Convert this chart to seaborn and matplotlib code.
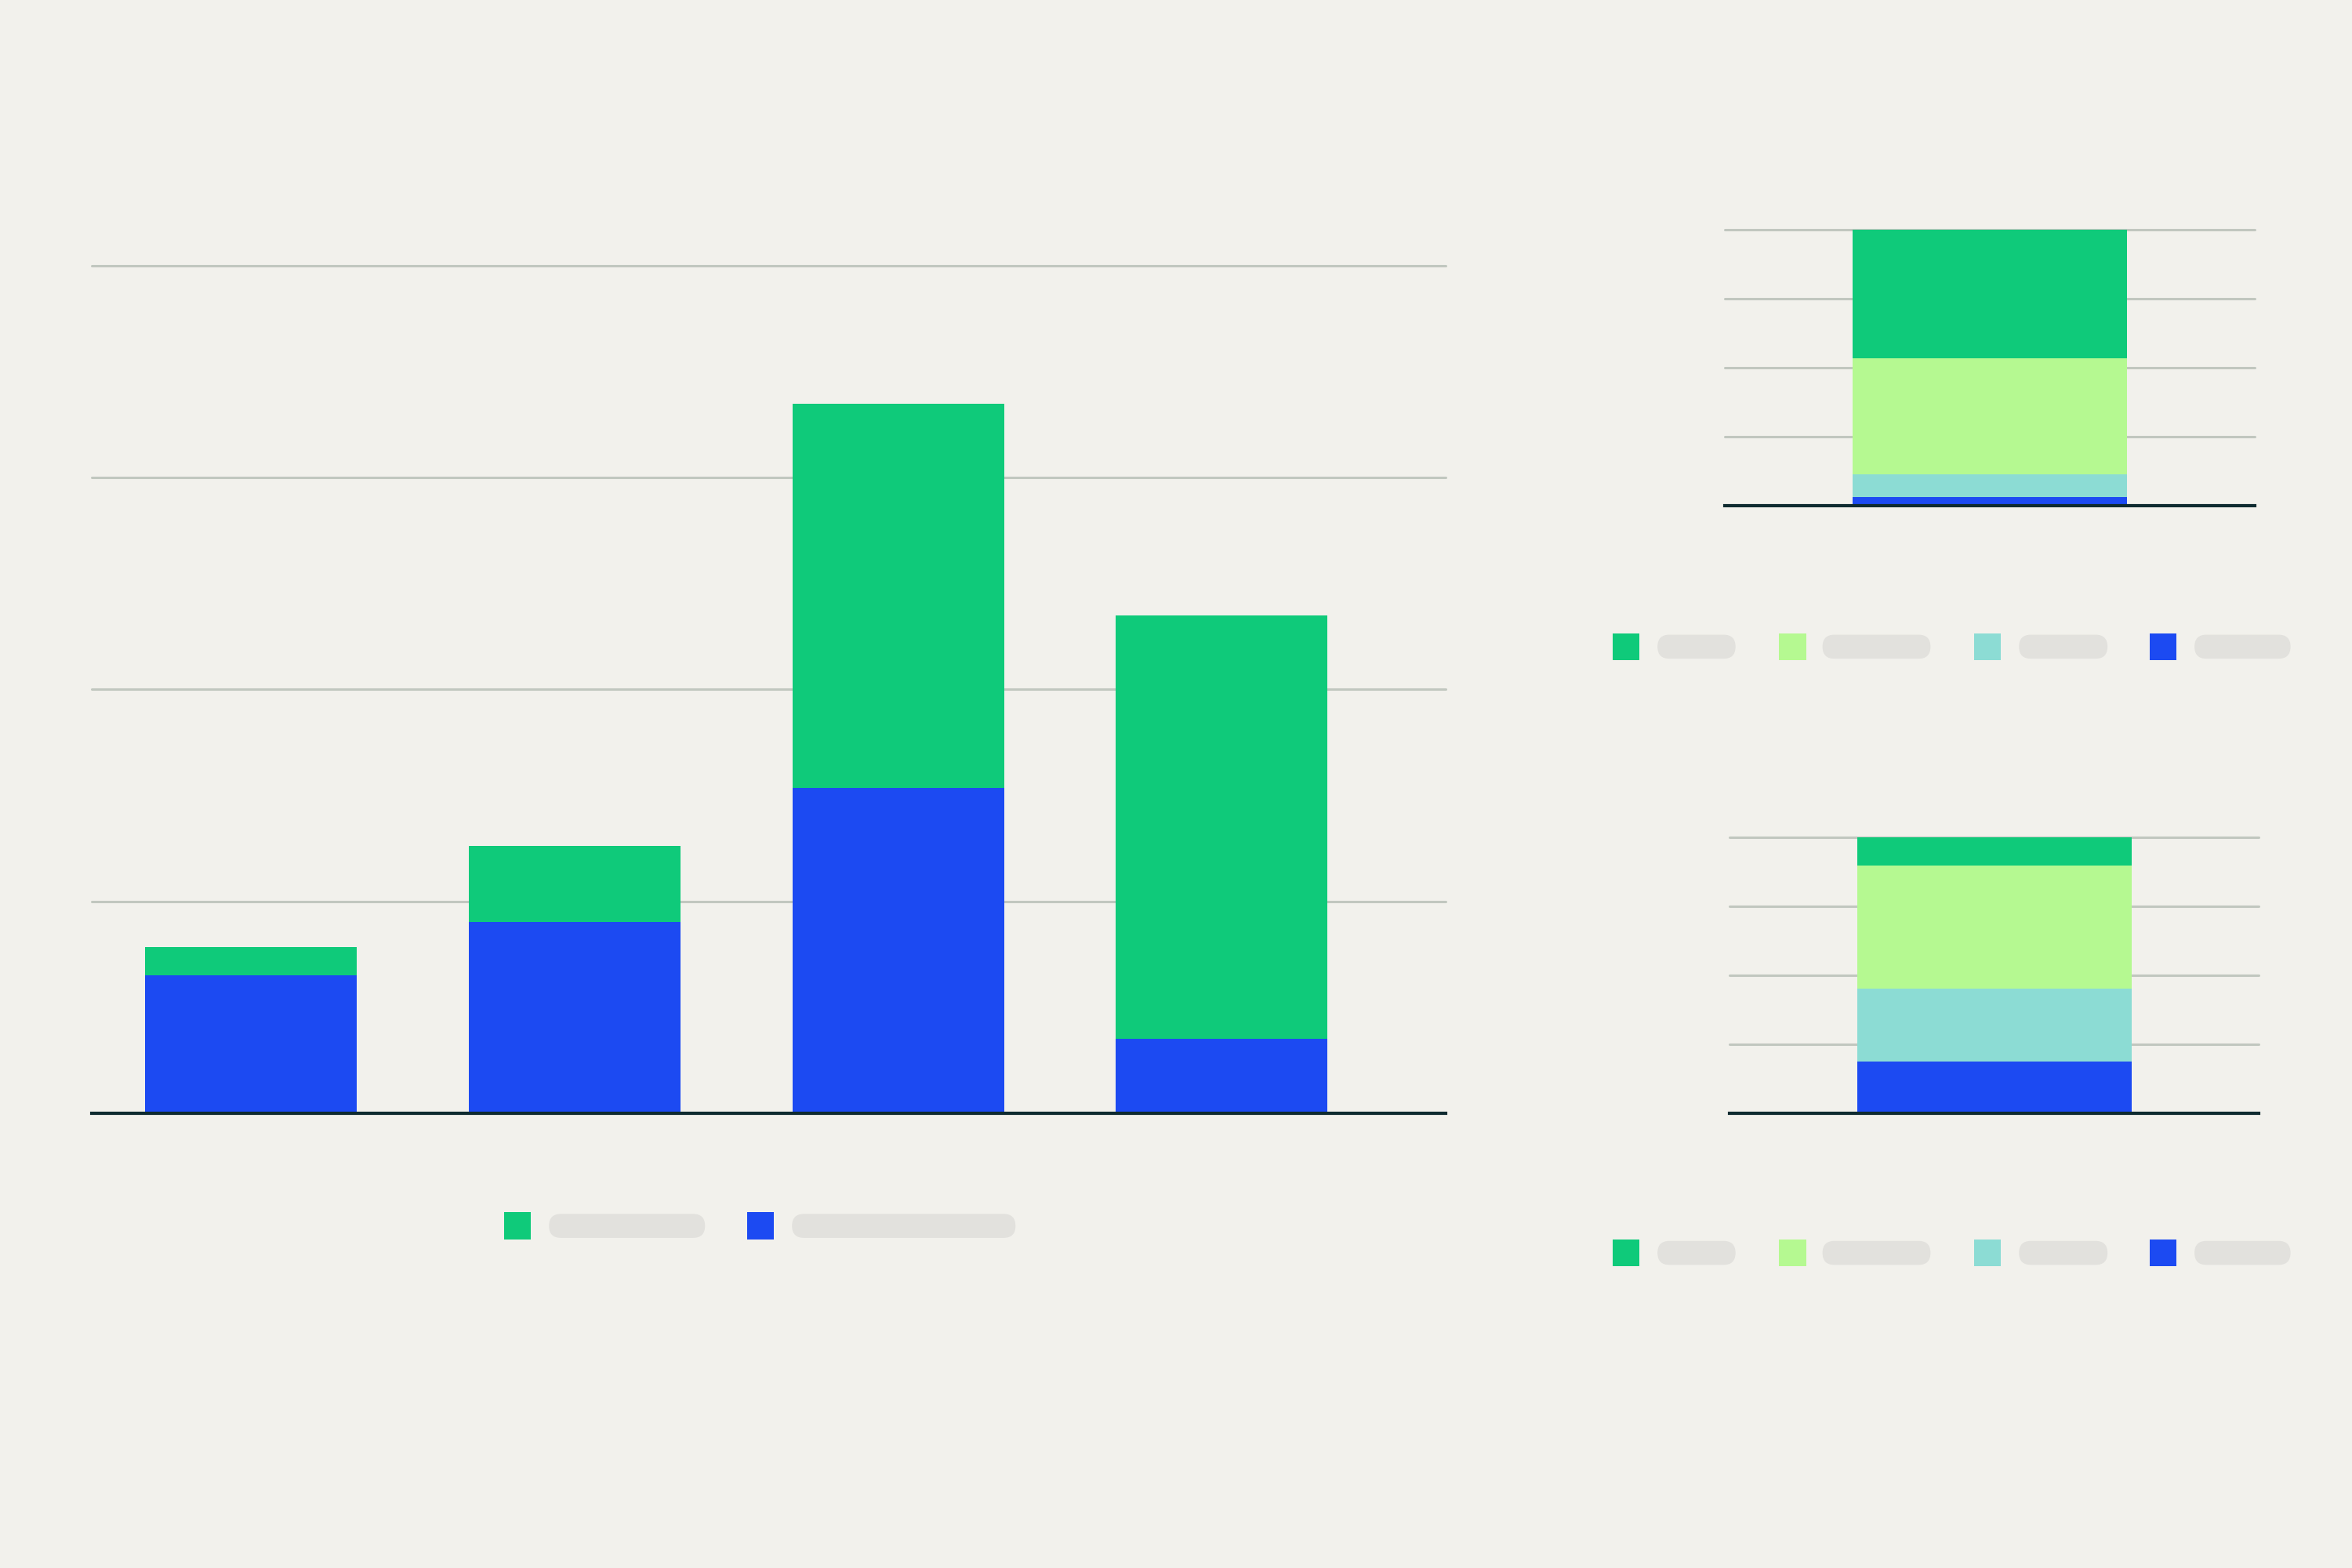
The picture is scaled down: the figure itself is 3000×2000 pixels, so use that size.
import matplotlib
matplotlib.use("Agg")
import matplotlib.pyplot as plt
import numpy as np
import pandas as pd
import seaborn as sns
from matplotlib.patches import Rectangle, FancyBboxPatch

# ===================== colours =====================
BG = "#f2f1ec"
GRID = "#c1c7bf"
BASE = "#0f2b30"
PILL = "#e2e1dd"
GREEN = "#0fca7a"
LIGHT_GREEN = "#b5f991"
TEAL = "#8cdcd4"
BLUE = "#1c4af2"

# ===================== data =====================
main_categories = ["A", "B", "C", "D"]
main_blue = [16.3, 22.6, 38.4, 8.8]
main_green = [3.3, 8.9, 45.3, 49.9]

# right-hand stacks, bottom -> top: blue, teal, light green, green
side_layers = ["blue", "teal", "light_green", "green"]
side_top_values = [3.0, 8.4, 41.9, 46.7]
side_bottom_values = [18.8, 26.3, 44.6, 10.3]

sns.set_theme(style="white")
plt.rcParams['font.family'] = ['DejaVu Sans']

fig = plt.figure(figsize=(15, 10), dpi=200, facecolor=BG)

# reference layout measured on a 1568 x 1045 grid
W, H = 1568.0, 1045.0


def fig_rect(x0, y_top, x1, y_bot):
    return [x0 / W, 1 - y_bot / H, (x1 - x0) / W, (y_bot - y_top) / H]


def style_axes(ax, ylim_top=100):
    ax.set_facecolor("none")
    ax.set_ylim(0, ylim_top)
    for y in [25, 50, 75, 100]:
        ax.axhline(y, color=GRID, lw=1.1, zorder=0, clip_on=False)
    for s in ["left", "right", "top"]:
        ax.spines[s].set_visible(False)
    ax.spines["bottom"].set_color(BASE)
    ax.spines["bottom"].set_linewidth(1.5)
    ax.spines["bottom"].set_zorder(5)
    ax.set_xticks([])
    ax.set_yticks([])
    ax.set_xlabel("")
    ax.set_ylabel("")


def stacked(ax, cats, layers, colors, width):
    cum = np.zeros(len(cats))
    cums = []
    for vals in layers:
        cum = cum + np.array(vals, dtype=float)
        cums.append(cum.copy())
    # draw tallest first so lower layers sit on top
    for c, col in reversed(list(zip(cums, colors))):
        df = pd.DataFrame({"cat": cats, "val": c})
        sns.barplot(data=df, x="cat", y="val", color=col, saturation=1,
                    width=width, linewidth=0, ax=ax, zorder=2)


# ===================== main chart =====================
ax_main = fig.add_axes(fig_rect(61, 177, 964, 742))
stacked(ax_main, main_categories, [main_blue, main_green], [BLUE, GREEN], 0.654)
ax_main.set_xlim(-0.493, 3.693)
style_axes(ax_main)

# ===================== right charts =====================
side_colors = [BLUE, TEAL, LIGHT_GREEN, GREEN]

ax_top = fig.add_axes(fig_rect(1150, 153, 1503, 337))
stacked(ax_top, ["x"], [[v] for v in side_top_values], side_colors, 0.8)
ax_top.set_xlim(-0.772, 0.772)
style_axes(ax_top)

ax_bot = fig.add_axes(fig_rect(1153, 558, 1506, 742))
stacked(ax_bot, ["x"], [[v] for v in side_bottom_values], side_colors, 0.8)
ax_bot.set_xlim(-0.772, 0.772)
style_axes(ax_bot)

# ===================== legends (swatch + placeholder pill) =====================
ov = fig.add_axes([0, 0, 1, 1], zorder=10)
ov.set_xlim(0, W)
ov.set_ylim(H, 0)
ov.axis("off")
ov.patch.set_alpha(0)


def legend_row(items, yc):
    for sq_x, pill_x0, pill_x1, col in items:
        ov.add_patch(Rectangle((sq_x, yc - 9), 18, 18, color=col, lw=0))
        ov.add_patch(FancyBboxPatch((pill_x0, yc - 8), pill_x1 - pill_x0, 16,
                                    boxstyle="round,pad=0,rounding_size=8",
                                    fc=PILL, ec="none"))


legend_row([(336, 366, 470, GREEN), (498, 528, 677, BLUE)], 817)
side_legend = [(1075, 1105, 1157, GREEN), (1186, 1215, 1287, LIGHT_GREEN),
               (1316, 1346, 1405, TEAL), (1433, 1463, 1527, BLUE)]
legend_row(side_legend, 431)
legend_row(side_legend, 835)

fig.savefig("out.png", dpi=200, facecolor=BG)
